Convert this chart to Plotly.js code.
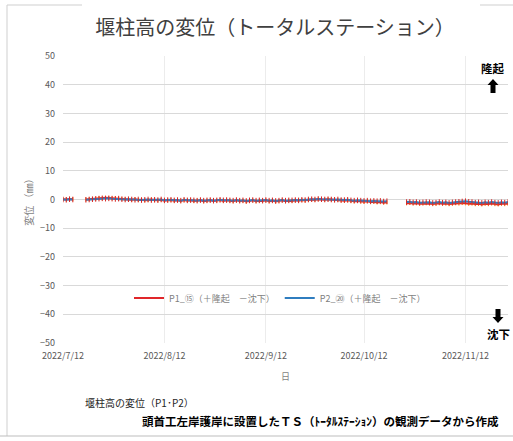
<!DOCTYPE html>
<html><head><meta charset="utf-8">
<script src="https://cdn.plot.ly/plotly-3.0.1.min.js"></script>
<style>html,body{margin:0;padding:0;background:#fff}#chart{width:513px;height:441px}</style>
</head><body><div id="chart"></div>
<script>
// daily observations from 2022-07-12 to 2022-11-25 (null = no data)
const startDate = '2022-07-12';
const p1Values = [
 0.1,0.0,0.2,0.1,null,null,null,0.0,0.1,0.2,0.3,0.5,0.4,0.6,0.5,0.4,0.5,0.3,0.2,0.1,
 0.0,-0.1,0.1,-0.2,-0.1,-0.3,-0.2,0.0,-0.2,-0.3,-0.1,-0.4,-0.3,-0.2,-0.4,-0.3,-0.5,-0.2,-0.4,-0.3,-0.5,-0.4,-0.3,-0.6,-0.4,-0.3,-0.5,-0.4,-0.2,-0.5,-0.3,
 -0.4,-0.6,-0.3,-0.5,-0.4,-0.7,-0.5,-0.3,-0.6,-0.4,-0.5,-0.3,-0.6,-0.4,-0.7,-0.5,-0.3,-0.6,-0.4,-0.5,-0.3,-0.4,-0.2,-0.3,-0.1,0.0,-0.1,0.1,0.0,-0.1,
 0.1,0.0,-0.2,-0.1,-0.3,-0.4,-0.3,-0.5,-0.6,-0.5,-0.7,-0.8,-0.6,-0.9,-0.8,-1.0,-0.9,-1.1,-1.0,null,null,null,null,null,-1.3,-1.2,-1.4,-1.3,-1.5,-1.4,-1.3,
 -1.4,-1.6,-1.5,-1.3,-1.5,-1.4,-1.6,-1.5,-1.3,-1.4,-1.2,-1.3,-1.5,-1.4,-1.6,-1.5,-1.7,-1.5,-1.6,-1.4,-1.6,-1.7,-1.5,-1.6,-1.5
];
const p2Values = [
 0.0,-0.1,0.1,0.0,null,null,null,-0.1,0.0,0.1,0.2,0.3,0.4,0.3,0.4,0.3,0.2,0.3,0.1,0.0,
 0.1,0.0,-0.1,0.0,-0.2,-0.1,0.0,-0.2,-0.1,-0.2,0.0,-0.3,-0.2,-0.1,-0.3,-0.2,-0.4,-0.1,-0.3,-0.2,-0.3,-0.4,-0.2,-0.4,-0.3,-0.2,-0.4,-0.3,-0.1,-0.3,-0.2,
 -0.3,-0.4,-0.2,-0.4,-0.3,-0.5,-0.3,-0.2,-0.4,-0.3,-0.4,-0.2,-0.4,-0.3,-0.5,-0.4,-0.2,-0.4,-0.3,-0.3,-0.2,-0.3,-0.1,-0.2,0.0,0.1,0.0,0.2,0.1,0.0,
 0.1,0.0,-0.1,0.0,-0.2,-0.2,-0.1,-0.3,-0.4,-0.3,-0.4,-0.5,-0.4,-0.6,-0.5,-0.6,-0.5,-0.7,-0.6,null,null,null,null,null,-0.9,-0.8,-1.0,-0.9,-1.1,-1.0,-0.9,
 -1.0,-1.2,-1.1,-0.9,-1.1,-1.0,-1.2,-1.0,-0.9,-0.8,-0.7,-0.6,-0.8,-0.9,-1.1,-1.0,-1.2,-1.0,-1.1,-0.9,-1.1,-1.2,-1.0,-1.1,-0.9
];
const seriesNames = ['P1_⑮（＋隆起　－沈下）', 'P2_⑳（＋隆起　－沈下）'];
const tickDates = ['2022-07-12','2022-08-12','2022-09-12','2022-10-12','2022-11-12'];
const tickLabels = ['2022/7/12','2022/8/12','2022/9/12','2022/10/12','2022/11/12'];
const yTicks = [-50,-40,-30,-20,-10,0,10,20,30,40,50];

const dates = [];
{ const d = new Date(startDate + 'T00:00:00Z');
  for (let i = 0; i < p1Values.length; i++) { dates.push(d.toISOString().slice(0,10)); d.setUTCDate(d.getUTCDate()+1); } }

const F = '"Noto Sans CJK JP", "Noto Sans", sans-serif';
const RED = '#e0262a', BLUE = '#2f7dbf';
const traces = [
 {x: dates, y: p1Values, name: seriesNames[0], type: 'scatter', mode: 'lines', line: {color: RED, width: 2}},
 {x: dates, y: p1Values, type: 'scatter', mode: 'markers', showlegend: false,
  marker: {symbol: 'line-ns-open', size: 3, line: {color: RED, width: 1}}},
 {x: dates, y: p2Values, name: seriesNames[1], type: 'scatter', mode: 'lines', line: {color: BLUE, width: 2}},
 {x: dates, y: p2Values, type: 'scatter', mode: 'markers', showlegend: false,
  marker: {symbol: 'line-ns-open', size: 4, line: {color: BLUE, width: 1}}}
];
const L = 63, R = 508, T = 56, B = 343;
const px = v => (v - L) / (R - L), py = v => (B - v) / (B - T);
function arrowPath(cx, cy, up) {
  // block arrow 10px wide, 14px tall, centred at (cx, cy) in picture pixels
  const s = up ? -1 : 1;
  const pts = [[cx, cy + s*7], [cx - 5.5, cy + s*1], [cx - 2.5, cy + s*1], [cx - 2.5, cy - s*7],
               [cx + 2.5, cy - s*7], [cx + 2.5, cy + s*1], [cx + 5.5, cy + s*1]];
  return 'M' + pts.map(p => px(p[0]).toFixed(5) + ',' + py(p[1]).toFixed(5)).join('L') + 'Z';
}
const layout = {
 width: 513, height: 441, margin: {l: L, r: 513 - R, t: T, b: 441 - B},
 paper_bgcolor: '#fff', plot_bgcolor: '#fff', font: {family: F, color: '#595959', size: 9},
 title: {text: '堰柱高の変位（トータルステーション）', font: {family: F, size: 20, color: '#404040'},
  xref: 'container', yref: 'container', x: 275/513, y: 1 - 28/441, xanchor: 'center', yanchor: 'middle'},
 xaxis: {type: 'date', range: ['2022-07-12', '2022-11-25'], tickvals: tickDates, ticktext: tickLabels,
  showgrid: true, gridcolor: '#ececec', gridwidth: 1, showline: false, zeroline: false, ticks: '',
  ticklabelstandoff: 6, tickfont: {size: 9, color: '#595959'}, fixedrange: true,
  title: {text: '日', font: {size: 9, color: '#7f7f7f'}, standoff: 12}},
 yaxis: {range: [-50, 50], tickvals: yTicks, showgrid: true, gridcolor: '#d9d9d9', gridwidth: 1,
  zeroline: false, showline: false, ticks: '', ticklabelstandoff: 7, tickfont: {size: 9, color: '#595959'},
  title: {text: '変位 （㎜）', font: {size: 10, color: '#7f7f7f'}, standoff: 4}},
 showlegend: true,
 legend: {orientation: 'h', x: px(280), xanchor: 'center', y: py(298), yanchor: 'middle',
  bgcolor: 'rgba(0,0,0,0)', font: {size: 9, color: '#7f7f7f'}, traceorder: 'normal', itemwidth: 30},
 shapes: [
  {type: 'line', xref: 'paper', yref: 'paper', x0: px(7), x1: px(7), y0: py(5), y1: py(436), line: {color: '#cfcfcf', width: 1}},
  {type: 'line', xref: 'paper', yref: 'paper', x0: px(7), x1: px(82), y0: py(5), y1: py(5), line: {color: '#cfcfcf', width: 1}},
  {type: 'line', xref: 'paper', yref: 'paper', x0: px(480), x1: px(515), y0: py(5), y1: py(5), line: {color: '#cfcfcf', width: 1}},
  {type: 'line', xref: 'paper', yref: 'paper', x0: px(0), x1: px(515), y0: py(436), y1: py(436), line: {color: '#bdbdbd', width: 1}},
  {type: 'path', xref: 'paper', yref: 'paper', path: arrowPath(493, 86, true), fillcolor: '#000', line: {width: 0}},
  {type: 'path', xref: 'paper', yref: 'paper', path: arrowPath(498, 316, false), fillcolor: '#000', line: {width: 0}}
 ],
 annotations: [
  {text: '<b>隆起</b>', xref: 'paper', yref: 'paper', x: px(493), y: py(68), xanchor: 'center', yanchor: 'middle', showarrow: false, font: {family: F, size: 11.5, color: '#000'}},
  {text: '<b>沈下</b>', xref: 'paper', yref: 'paper', x: px(498), y: py(334), xanchor: 'center', yanchor: 'middle', showarrow: false, font: {family: F, size: 11.5, color: '#000'}},
  {text: '堰柱高の変位（P1･P2）', xref: 'paper', yref: 'paper', x: px(83), y: py(402), xanchor: 'left', yanchor: 'middle', showarrow: false, font: {family: F, size: 10, color: '#262626'}},
  {text: '<b>頭首工左岸護岸に設置したＴＳ（ﾄｰﾀﾙｽﾃｰｼｮﾝ）の観測データから作成</b>', xref: 'paper', yref: 'paper', x: px(501), y: py(421), xanchor: 'right', yanchor: 'middle', showarrow: false, font: {family: F, size: 11.5, color: '#000'}}
 ]
};
Plotly.newPlot('chart', traces, layout, {displayModeBar: false, staticPlot: true});
</script></body></html>
